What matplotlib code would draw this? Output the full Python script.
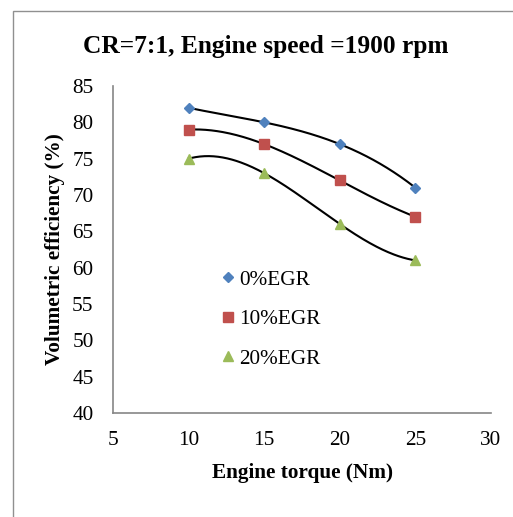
import numpy as np
import matplotlib
matplotlib.use('Agg')
import matplotlib.pyplot as plt
from matplotlib.patches import Rectangle

plt.rcParams['font.family'] = ['Liberation Serif', 'DejaVu Serif']

# engine torque (Nm)
torque = [10, 15, 20, 25]
# volumetric efficiency (%)
egr0 = [82, 80, 77, 71]
egr10 = [79, 77, 72, 67]
egr20 = [75, 73, 66, 61]

labels = ['0%EGR', '10%EGR', '20%EGR']
colors = ['#4F81BD', '#C0504D', '#9BBB59']
markers = ['D', 's', '^']
msizes = [5.5, 6.5, 7]

fig = plt.figure(figsize=(5.13, 5.17), dpi=100)
W, H = 513.0, 517.0
# chart area border (only left/top visible)
fig.patches.append(Rectangle((13/W, -0.1), 1.2, (517-11)/H + 0.1, transform=fig.transFigure,
                             fill=False, edgecolor='#909090', linewidth=1.0))

ax = fig.add_axes([113/W, 1 - 413/H, (491-113)/W, (413-86)/H])

xs = np.linspace(10, 25, 200)
for ys, lab, c, m, ms in zip([egr0, egr10, egr20], labels, colors, markers, msizes):
    coef = np.polyfit(torque, ys, 3)
    ax.plot(xs, np.polyval(coef, xs), color='black', linewidth=1.5, zorder=2)
    ax.plot(torque, ys, linestyle='none', marker=m, color=c, markersize=ms, label=lab, zorder=3)

ax.set_xlim(5, 30)
ax.set_ylim(40, 85)
ax.set_xticks(range(5, 31, 5))
ax.set_yticks(range(40, 86, 5))
ax.tick_params(length=0, labelsize=15.3)
ax.tick_params(axis='x', pad=13)
ax.tick_params(axis='y', pad=14)
for s in ['top', 'right']:
    ax.spines[s].set_visible(False)
for s in ['left', 'bottom']:
    ax.spines[s].set_color('#868686')
    ax.spines[s].set_linewidth(1.2)

ax.set_xlabel('Engine torque (Nm)', fontsize=15.3, fontweight='bold', labelpad=9)
ax.set_ylabel('Volumetric efficiency (%)', fontsize=15.3, fontweight='bold', labelpad=5)
fig.text(266/W, 1 - 47/H, 'CR=7:1, Engine speed =1900 rpm', fontsize=18.3, fontweight='bold',
         ha='center', va='center')

ax.legend(loc='upper left', bbox_to_anchor=(222/W, 1 - 270/H), bbox_transform=fig.transFigure,
          frameon=False, fontsize=15.3, handlelength=0.6, handletextpad=0.2, labelspacing=0.92,
          borderpad=0, borderaxespad=0)

fig.savefig('out.png', dpi=100)
